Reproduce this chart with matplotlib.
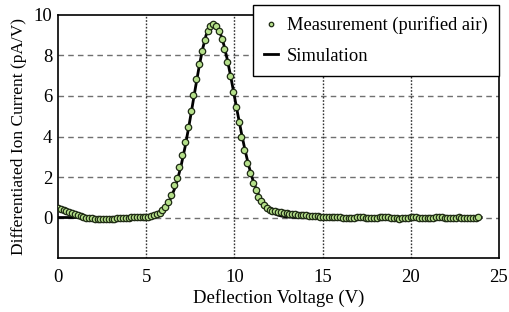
import numpy as np
import matplotlib
matplotlib.use("Agg")
import matplotlib.pyplot as plt

# measured points, 0.16 V apart starting at 0 V
meas_step = 0.16
meas_y = [0.45, 0.40, 0.35, 0.30, 0.25, 0.20, 0.15, 0.11, 0.07, 0.03,
          0.00, -0.02, -0.04, -0.06, -0.07, -0.08, -0.08, -0.08, -0.07, -0.06,
          -0.05, -0.04, -0.03, -0.02, -0.01, 0.00, 0.01, 0.01, 0.02, 0.02,
          0.03, 0.04, 0.05, 0.07, 0.10, 0.16, 0.24, 0.35, 0.50, 0.77,
          1.12, 1.60, 1.97, 2.49, 3.08, 3.75, 4.48, 5.25, 6.04, 6.82,
          7.56, 8.22, 8.78, 9.20, 9.46, 9.55, 9.47, 9.22, 8.83, 8.30,
          7.68, 6.97, 6.22, 5.46, 4.70, 3.98, 3.32, 2.71, 2.18, 1.72,
          1.34, 1.02, 0.80, 0.62, 0.48, 0.38, 0.33, 0.30, 0.27, 0.25,
          0.23, 0.21, 0.19, 0.17, 0.15, 0.14, 0.12, 0.11, 0.10, 0.09,
          0.08, 0.07, 0.06, 0.05, 0.04, 0.04, 0.04, 0.04, 0.05, 0.04,
          0.02, 0.00, -0.02, -0.03, -0.02, 0.00, 0.02, 0.03, 0.02, 0.00,
          -0.02, -0.04, -0.04, -0.02, 0.01, 0.03, 0.04, 0.02, 0.00, -0.02,
          -0.04, -0.05, -0.04, -0.02, 0.00, 0.01, 0.02, 0.01, 0.00, -0.01,
          -0.03, -0.04, -0.03, -0.01, 0.01, 0.03, 0.02, 0.00, -0.02, -0.03,
          -0.02, 0.00, 0.01, 0.00, -0.02, -0.03, -0.02, -0.01, 0.00, 0.01]
meas_x = np.arange(len(meas_y)) * meas_step

# simulation curve
sim_x = [0.0, 4.0, 4.4, 4.8, 5.2, 5.4, 5.6, 5.8, 6.0, 6.2, 6.4, 6.6, 6.8,
         7.0, 7.2, 7.4, 7.6, 7.8, 8.0, 8.2, 8.4, 8.6, 8.8, 9.0, 9.2, 9.4,
         9.6, 9.8, 10.0, 10.2, 10.4, 10.6, 10.8, 11.0, 11.2, 11.4, 11.6,
         11.8, 12.0, 12.2, 12.4, 12.6, 12.8, 13.0, 13.4, 14.0, 24.0]
sim_y = [0.0, 0.0, 0.004, 0.016, 0.055, 0.096, 0.16, 0.27, 0.42, 0.65, 0.97,
         1.40, 1.95, 2.64, 3.46, 4.40, 5.41, 6.44, 7.44, 8.32, 9.01, 9.45,
         9.60, 9.48, 9.11, 8.54, 7.80, 6.94, 6.01, 5.08, 4.18, 3.35, 2.61,
         1.99, 1.48, 1.07, 0.75, 0.51, 0.34, 0.22, 0.14, 0.09, 0.05, 0.03,
         0.01, 0.0, 0.0]

plt.rcParams['font.family'] = ['Liberation Serif', 'DejaVu Serif']

fig = plt.figure(figsize=(5.09, 3.12), dpi=100)
ax = fig.add_axes([0.114, 0.173, 0.866, 0.779])

ax.plot(sim_x, sim_y, color='black', lw=2.0, zorder=3, label='Simulation')
ax.plot(meas_x, meas_y, 'o', ms=4.6, mfc='#b5e08a', mec='#1e2a14', mew=0.9,
        zorder=4, label='Measurement (purified air)')

ax.set_xlim(0, 25)
ax.set_ylim(-2, 10)
ax.set_xticks([0, 5, 10, 15, 20, 25])
ax.set_yticks([0, 2, 4, 6, 8, 10])
ax.tick_params(direction='in', length=0, labelsize=13.5)
ax.tick_params(axis='x', pad=8)
ax.tick_params(axis='y', pad=4)

for y in [0, 2, 4, 6, 8]:
    ax.axhline(y, color='#707070', lw=1.0, ls=(0, (4, 3)), zorder=1)
for x in [5, 10, 15, 20]:
    ax.axvline(x, color='#303030', lw=1.0, ls=(0, (1.2, 1.2)), zorder=1)

for s in ax.spines.values():
    s.set_linewidth(1.2)

ax.set_xlabel('Deflection Voltage (V)', fontsize=13.5, labelpad=2)
ax.set_ylabel('Differentiated Ion Current (pA/V)', fontsize=12.5, labelpad=5)

handles, labels = ax.get_legend_handles_labels()
leg = ax.legend(handles[::-1], labels[::-1], loc='upper right',
                bbox_to_anchor=(1.0, 1.041), borderaxespad=0, fontsize=13.3,
                frameon=True, fancybox=False, edgecolor='black', framealpha=1,
                handlelength=0.76, handletextpad=0.45, labelspacing=0.72,
                borderpad=0.62, markerscale=0.7)
leg.get_frame().set_linewidth(1.0)
leg.set_zorder(10)

fig.savefig('out.png', dpi=100)
